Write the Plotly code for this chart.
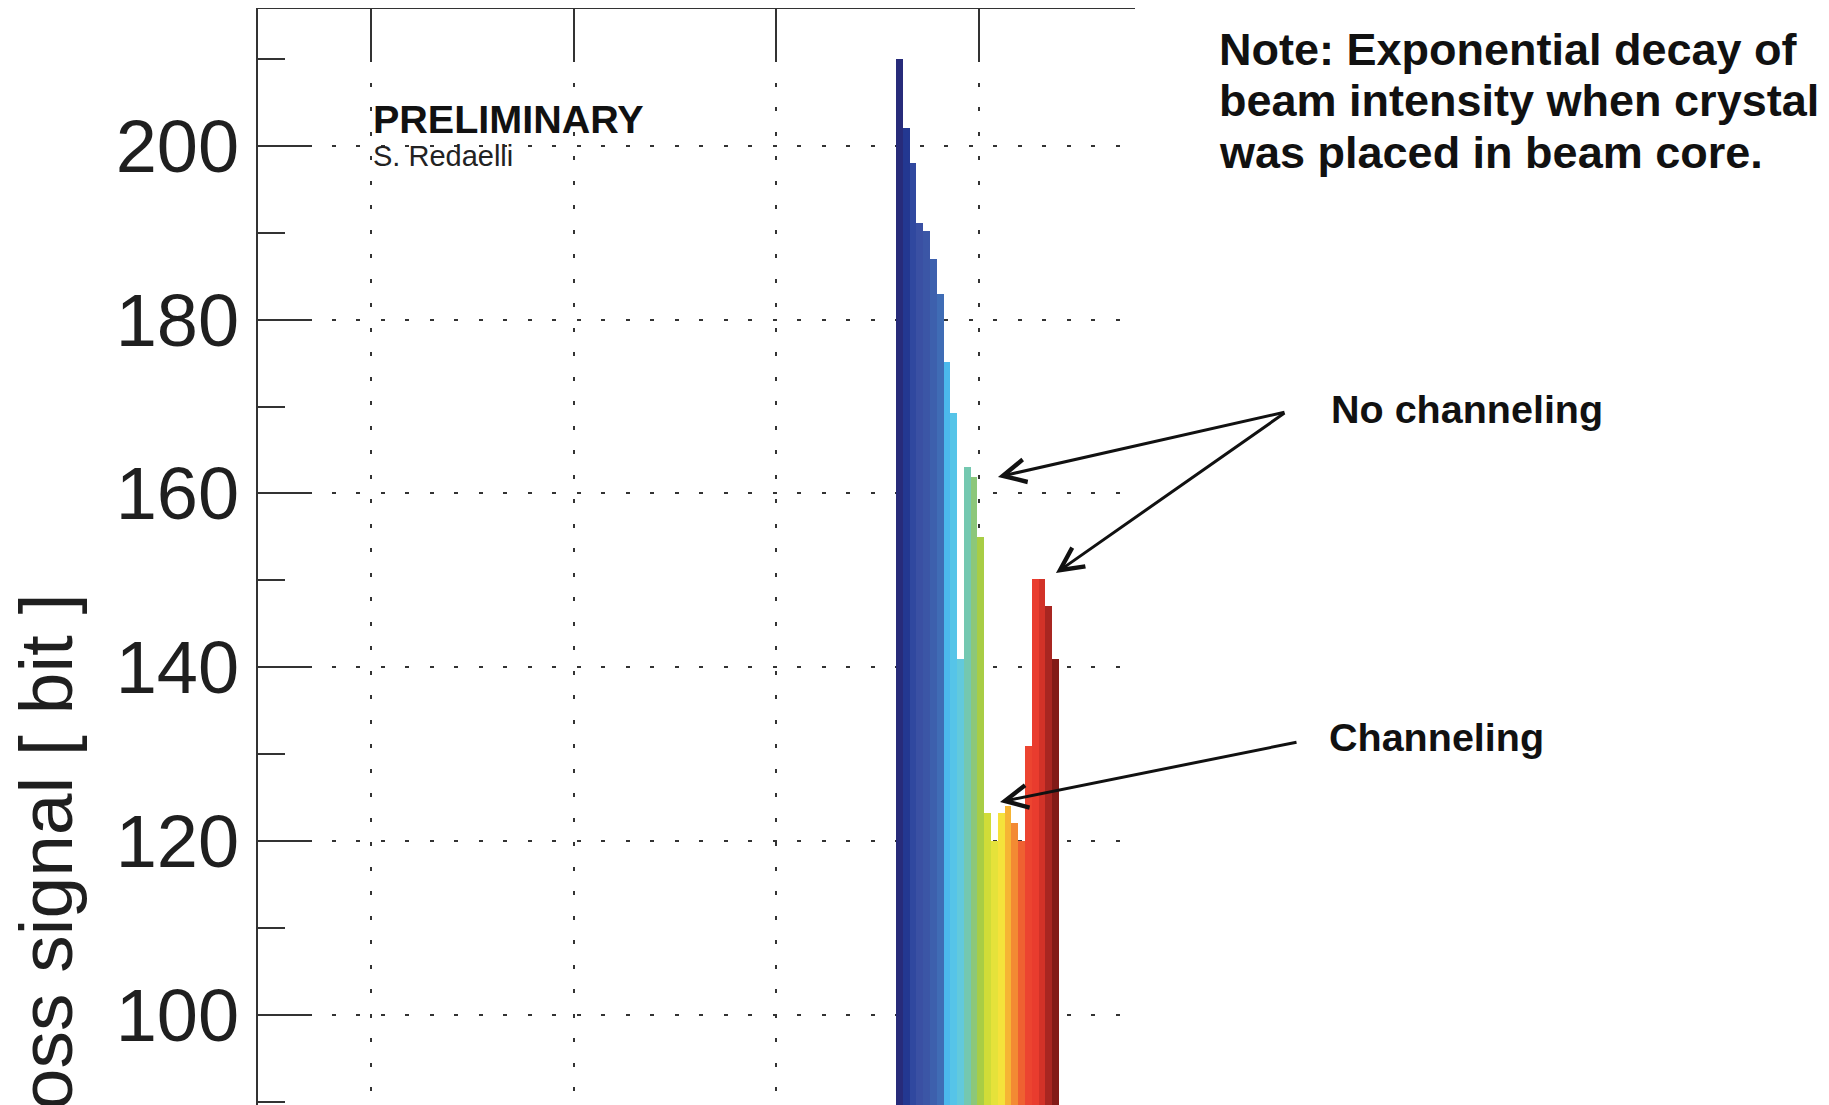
import plotly.graph_objects as go

# ---- data ----
bar_index = list(range(24))
loss_signal = [210.0, 202.0, 198.0, 191.1, 190.2, 187.0, 183.0, 175.1, 169.2, 141.0,
               163.0, 161.9, 155.0, 123.2, 120.0, 123.2, 124.0, 122.1, 120.0, 130.9,
               150.1, 150.1, 147.1, 141.0]
bar_colors = ["#272b7a", "#233891", "#30489f", "#3a50a3", "#3b56a6", "#3d60ad",
              "#3f6cb5", "#4bb8ec", "#56c4e8", "#62c9dc", "#74c8b0", "#8cc77a",
              "#a8cd45", "#d0dc38", "#e5e23a", "#f5e23b", "#f6b434", "#f38a33",
              "#ef6131", "#ec4430", "#e93c2e", "#d23228", "#a82621", "#821b17"]
y_tick_values = [100, 120, 140, 160, 180, 200]
y_tick_labels = ["100", "120", "140", "160", "180", "200"]

FONT = "Liberation Sans, Arial, Helvetica, sans-serif"
AX = "#333333"
GRID_DASH = "4px,20.5px"

fig = go.Figure()
fig.add_trace(go.Bar(
    x=bar_index, y=loss_signal, width=1.0,
    marker=dict(color=bar_colors, line=dict(width=0)),
    showlegend=False, hoverinfo="x+y",
))

# invisible trace to anchor the top axis
fig.add_trace(go.Scatter(x=[None], y=[None], xaxis="x2", yaxis="y", showlegend=False))

x_range = [-94.46, 34.70]
fig.update_layout(
    width=1821, height=1097, autosize=False,
    margin=dict(l=250, r=694, t=1, b=0, pad=0),
    paper_bgcolor="white", plot_bgcolor="white",
    bargap=0,
    font=dict(family=FONT, color="#1a1a1a"),
    xaxis=dict(
        range=x_range, showline=False, zeroline=False,
        showticklabels=False, ticks="",
        showgrid=True, gridcolor=AX, gridwidth=2, griddash=GRID_DASH,
        tick0=11.69, dtick=29.84,
    ),
    xaxis2=dict(
        range=x_range, overlaying="x", side="top",
        showline=True, linecolor=AX, linewidth=2,
        ticks="inside", ticklen=49, tickwidth=2, tickcolor=AX,
        showticklabels=False, showgrid=False, zeroline=False,
        tick0=11.69, dtick=29.84,
    ),
    yaxis=dict(
        range=[89.63, 215.74], showline=True, linecolor=AX, linewidth=2,
        zeroline=False, mirror=False,
        tickmode="array", tickvals=y_tick_values, ticktext=y_tick_labels,
        ticks="inside", ticklen=54, tickwidth=2, tickcolor=AX,
        tickfont=dict(size=74, family=FONT, color="#1f1f1f"),
        ticklabelstandoff=2,
        showgrid=True, gridcolor=AX, gridwidth=2, griddash=GRID_DASH,
        minor=dict(ticks="inside", ticklen=27, tickwidth=2, tickcolor=AX,
                   tick0=0, dtick=10, showgrid=False),
    ),
)

annotations = [
    dict(text="Loss signal [ bit ]", textangle=-90, xref="paper", yref="paper",
         x=-0.2417, y=0.2117, xanchor="center", yanchor="middle", showarrow=False,
         font=dict(size=75, family=FONT, color="#1f1f1f")),
    dict(text="<b>PRELIMINARY</b>", xref="paper", yref="paper", x=0.1294, y=0.8998,
         xanchor="left", yanchor="middle", showarrow=False,
         font=dict(size=39.5, family=FONT, color="#111111")),
    dict(text="S. Redaelli", xref="paper", yref="paper", x=0.1294, y=0.8659,
         xanchor="left", yanchor="middle", showarrow=False,
         font=dict(size=29, family=FONT, color="#222222")),
    dict(text="<b>Note: Exponential decay of</b>", xref="paper", yref="paper",
         x=1.0935, y=(1105 - 49.4) / 1096, xanchor="left", yanchor="middle",
         showarrow=False, font=dict(size=45, family=FONT, color="#111111")),
    dict(text="<b>beam intensity when crystal</b>", xref="paper", yref="paper",
         x=1.0935, y=(1105 - 100.4) / 1096, xanchor="left", yanchor="middle",
         showarrow=False, font=dict(size=45, family=FONT, color="#111111")),
    dict(text="<b>was placed in beam core.</b>", xref="paper", yref="paper",
         x=1.0935, y=(1105 - 152.4) / 1096, xanchor="left", yanchor="middle",
         showarrow=False, font=dict(size=45, family=FONT, color="#111111")),
    dict(text="<b>No channeling</b>", xref="paper", yref="paper", x=1.2212, y=0.6350,
         xanchor="left", yanchor="middle", showarrow=False,
         font=dict(size=39.5, family=FONT, color="#111111")),
    dict(text="<b>Channeling</b>", xref="paper", yref="paper", x=1.2189, y=0.3358,
         xanchor="left", yanchor="middle", showarrow=False,
         font=dict(size=39.5, family=FONT, color="#111111")),
]

arrow_style = dict(text="", showarrow=True, arrowhead=5, arrowsize=1.5,
                   arrowwidth=3, arrowcolor="#111111", xref="x", yref="y",
                   standoff=0, startstandoff=0)
annotations += [
    dict(x=14.52, y=161.9, ax=288, ay=-65, **arrow_style),
    dict(x=23.06, y=150.84, ax=230, ay=-161, **arrow_style),
    dict(x=14.82, y=124.5, ax=298, ay=-60, **arrow_style),
]
fig.update_layout(annotations=annotations)

fig.write_html("out.html")
